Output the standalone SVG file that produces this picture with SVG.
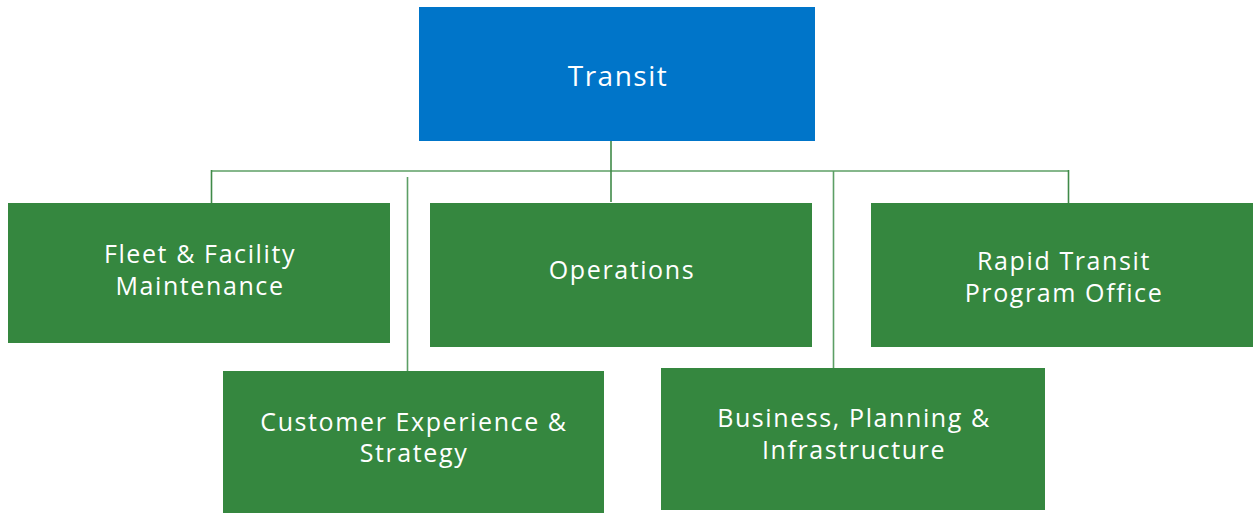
<svg xmlns="http://www.w3.org/2000/svg" width="1253" height="513" viewBox="0 0 1253 513">
<style>
.blue{fill:#0075c9}
.green{fill:#35873f}
.t{fill:#ffffff;font-family:"Open Sans","Liberation Sans",sans-serif;font-size:25px;letter-spacing:1.6px;text-anchor:middle}
.t2{fill:#ffffff;font-family:"Open Sans","Liberation Sans",sans-serif;font-size:28px;letter-spacing:1.5px;text-anchor:middle}
.c{stroke:#5c9f65;stroke-width:1.6;fill:none}
.cd{stroke:#3f8a48;stroke-width:1.6;fill:none}
</style>
<rect width="1253" height="513" fill="#ffffff"/>
<g id="connectors">
<line class="c" x1="211" y1="171" x2="1069" y2="171"/>
<line class="cd" x1="611" y1="141" x2="611" y2="202"/>
<line class="cd" x1="211.5" y1="170" x2="211.5" y2="203"/>
<line class="cd" x1="1068.5" y1="170" x2="1068.5" y2="203"/>
<line class="c" x1="407.5" y1="177" x2="407.5" y2="371"/>
<line class="c" x1="833.5" y1="171" x2="833.5" y2="368"/>
</g>
<g id="transit">
<rect class="blue" x="419" y="7" width="396" height="134"/>
<text class="t2" x="618" y="86">Transit</text>
</g>
<g id="fleet">
<rect class="green" x="8" y="203" width="382" height="140"/>
<text class="t" x="200" y="263">Fleet &amp; Facility</text>
<text class="t" x="200" y="295">Maintenance</text>
</g>
<g id="operations">
<rect class="green" x="430" y="203" width="382" height="144"/>
<text class="t" x="622" y="279">Operations</text>
</g>
<g id="rapid">
<rect class="green" x="871" y="203" width="382" height="144"/>
<text class="t" x="1064" y="270">Rapid Transit</text>
<text class="t" x="1064" y="302">Program Office</text>
</g>
<g id="customer">
<rect class="green" x="223" y="371" width="381" height="142"/>
<text class="t" x="414" y="431">Customer Experience &amp;</text>
<text class="t" x="414" y="462">Strategy</text>
</g>
<g id="business">
<rect class="green" x="661" y="368" width="384" height="142"/>
<text class="t" x="854" y="427">Business, Planning &amp;</text>
<text class="t" x="854" y="459">Infrastructure</text>
</g>
</svg>
